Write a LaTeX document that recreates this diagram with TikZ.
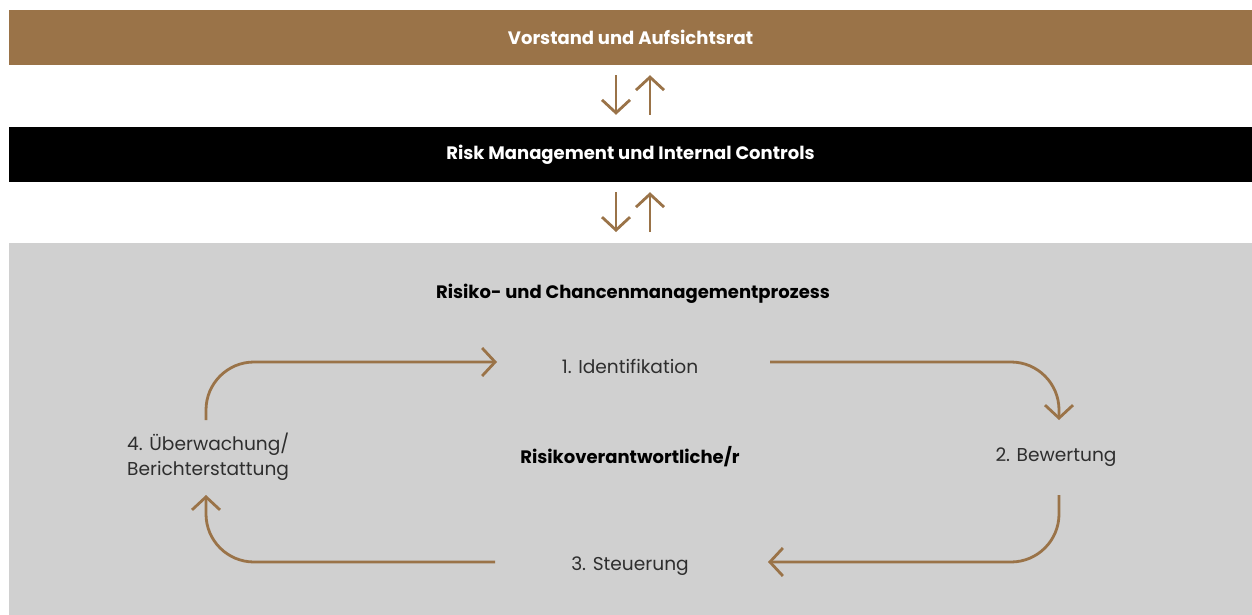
\documentclass[tikz,border=0pt]{standalone}
\usepackage{fontspec}
\setmainfont{Poppins}
\usetikzlibrary{arrows.meta}
\definecolor{bronze}{HTML}{9A7348}
\definecolor{panel}{HTML}{D0D0D0}
\definecolor{ink}{HTML}{2E2E2E}
\begin{document}
\begin{tikzpicture}[x=1pt,y=-1pt,
    bar/.style={minimum width=1243pt,minimum height=55pt,inner sep=0pt,
      font=\fontsize{18}{22}\selectfont\bfseries,text=white},
    updown/.style={draw=bronze,line width=2.8pt,-{Straight Barb[length=13pt,width=28pt]}},
    cyc/.style={draw=bronze,line width=2.8pt,rounded corners=48pt,
      -{Straight Barb[length=13pt,width=28pt]}},
    steplabel/.style={text=ink,font=\fontsize{18.6}{25}\selectfont,inner sep=0pt},
    headlabel/.style={text=black,font=\fontsize{18}{24}\selectfont\bfseries,inner sep=0pt}]
  \useasboundingbox (0,0) rectangle (1252,615);
  \fill[panel] (9,243) rectangle (1252,615);
  \node[bar,fill=bronze] (board) at (630.5,37.5) {Vorstand und Aufsichtsrat};
  \node[bar,fill=black] (rmic) at (630.5,154.5) {Risk Management und Internal Controls};
  \coordinate (panel) at (630.5,243);
  \draw[updown] ([xshift=-14.5pt,yshift=-10pt]board.south) -- ([xshift=-14.5pt,yshift=12pt]rmic.north);
  \draw[updown] ([xshift=19.5pt,yshift=12pt]rmic.north) -- ([xshift=19.5pt,yshift=-10pt]board.south);
  \draw[updown] ([xshift=-14.5pt,yshift=-10pt]rmic.south) -- ([yshift=11pt,xshift=-14.5pt]panel);
  \draw[updown] ([yshift=11pt,xshift=19.5pt]panel) -- ([xshift=19.5pt,yshift=-10pt]rmic.south);
  \node[headlabel] (proc) at (633,294) {Risiko- und Chancenmanagementprozess};
  \node[headlabel] (owner) at (630,457) {Risikoverantwortliche/r};
  \node[steplabel] (ident) at (630,366) {1. Identifikation};
  \node[steplabel] (bewert) at (1056,457) {2. Bewertung};
  \node[steplabel] (steuer) at (630,566) {3. Steuerung};
  \node[steplabel,align=left,anchor=west] (ueber) at (127,457) {4. Überwachung/\\Berichterstattung};
  \coordinate (c1) at (206,420);
  \coordinate (c2) at (497,362);
  \coordinate (c3) at (770,362);
  \coordinate (c4) at (1059,420);
  \coordinate (c5) at (1059,495);
  \coordinate (c6) at (768,562);
  \coordinate (c7) at (495,562);
  \coordinate (c8) at (206,495);
  \draw[cyc] (c1) |- (c2);
  \draw[cyc] (c3) -| (c4);
  \draw[cyc] (c5) |- (c6);
  \draw[cyc] (c7) -| (c8);
\end{tikzpicture}
\end{document}
